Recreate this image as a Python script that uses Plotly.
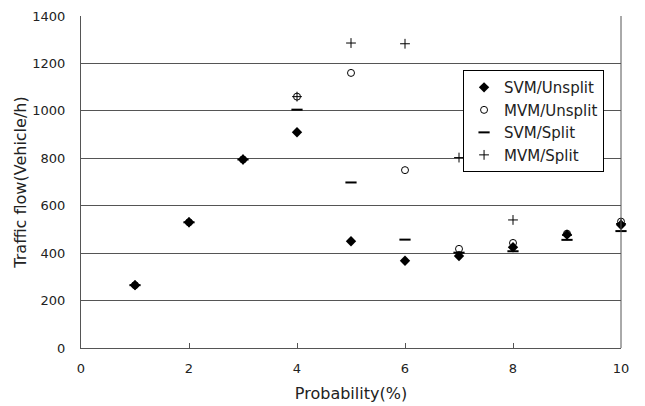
import plotly.graph_objects as go

prob = [1, 2, 3, 4, 5, 6, 7, 8, 9, 10]
svm_unsplit = [265, 530, 795, 910, 450, 368, 388, 425, 478, 520]
mvm_unsplit = [265, 530, 795, 1060, 1160, 750, 418, 443, 482, 533]
svm_split = [265, 530, 795, 1005, 698, 457, 402, 408, 456, 493]
mvm_split = [265, 530, 795, 1060, 1286, 1283, 803, 540, 475, 525]

names = ["SVM/Unsplit", "MVM/Unsplit", "SVM/Split", "MVM/Split"]
series = [svm_unsplit, mvm_unsplit, svm_split, mvm_split]
markers = [
    dict(symbol="diamond", size=8, color="black", line=dict(width=0)),
    dict(symbol="circle-open", size=7, color="black", line=dict(width=1, color="black")),
    dict(symbol="line-ew", size=8, color="black", line=dict(width=2, color="black")),
    dict(symbol="cross-thin", size=7, color="black", line=dict(width=1, color="black")),
]

fig = go.Figure()
for n, s, m in zip(names, series, markers):
    fig.add_trace(go.Scatter(x=prob, y=s, mode="markers", name=n, marker=m, cliponaxis=False))

font = "DejaVu Sans, sans-serif"
fig.update_layout(
    width=645, height=406,
    margin=dict(l=81, r=24, t=16, b=58),
    paper_bgcolor="white", plot_bgcolor="white",
    font=dict(family=font, size=13, color="#222"),
    showlegend=True,
    legend=dict(x=0.7075, y=0.837, xanchor="left", yanchor="top",
                bordercolor="black", borderwidth=1, bgcolor="white",
                font=dict(size=15), itemwidth=30, tracegroupgap=0),
    xaxis=dict(range=[0, 10], tickvals=[0, 2, 4, 6, 8, 10], ticks="inside", ticklen=5,
               tickcolor="#555", showgrid=False, zeroline=False, showline=True,
               linecolor="#555", linewidth=1, mirror=False, ticklabelstandoff=8,
               automargin=False,
               title=dict(text="Probability(%)", standoff=13)),
    yaxis=dict(range=[0, 1400], tickvals=[0, 200, 400, 600, 800, 1000, 1200, 1400],
               showgrid=True, gridcolor="#555", gridwidth=1, zeroline=False,
               showline=True, linecolor="#555", linewidth=1, automargin=False,
               ticks="", ticklabelstandoff=12,
               title=dict(text="Traffic flow(Vehicle/h)", standoff=1)),
)
fig.add_shape(type="line", xref="paper", yref="paper", x0=1, x1=1, y0=0, y1=1,
              line=dict(color="#555", width=1))
fig.write_html("out.html")
